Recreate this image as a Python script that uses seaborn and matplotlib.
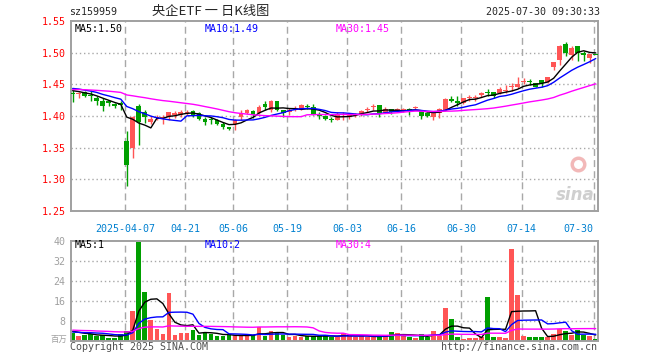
import numpy as np
import pandas as pd
import seaborn as sns
import matplotlib.pyplot as plt

# trading days on the chart (exchange holidays removed)
holidays = ['2025-04-04', '2025-05-01', '2025-05-02', '2025-05-05', '2025-06-02']
days = pd.bdate_range('2025-03-24', '2025-07-30')
days = days[~days.isin(pd.to_datetime(holidays))]

opens = [1.435, 1.434, 1.438, 1.433, 1.428, 1.424, 1.423, 1.419, 1.421, 1.360,
         1.349, 1.416, 1.407, 1.391, 1.397, 1.397, 1.399, 1.401, 1.402, 1.405,
         1.408, 1.405, 1.396, 1.394, 1.393, 1.388, 1.382, 1.387, 1.398, 1.404,
         1.408, 1.404, 1.419, 1.409, 1.424, 1.409, 1.407, 1.409, 1.411, 1.415,
         1.414, 1.401, 1.400, 1.395, 1.394, 1.402, 1.398, 1.402, 1.403, 1.410,
         1.414, 1.417, 1.404, 1.411, 1.409, 1.408, 1.411, 1.412, 1.410, 1.404,
         1.398, 1.405, 1.409, 1.427, 1.424, 1.420, 1.429, 1.429, 1.433, 1.437,
         1.438, 1.436, 1.439, 1.445, 1.445, 1.454, 1.455, 1.452, 1.457, 1.453,
         1.478, 1.488, 1.514, 1.496, 1.510, 1.500, 1.492, 1.497]
highs = [1.441, 1.438, 1.439, 1.441, 1.432, 1.428, 1.425, 1.421, 1.423, 1.377,
         1.400, 1.419, 1.409, 1.400, 1.402, 1.401, 1.407, 1.408, 1.409, 1.409,
         1.409, 1.407, 1.398, 1.398, 1.396, 1.390, 1.383, 1.395, 1.409, 1.411,
         1.409, 1.417, 1.423, 1.425, 1.424, 1.410, 1.412, 1.415, 1.419, 1.419,
         1.419, 1.407, 1.401, 1.399, 1.406, 1.407, 1.404, 1.405, 1.410, 1.414,
         1.419, 1.417, 1.414, 1.411, 1.413, 1.412, 1.413, 1.416, 1.410, 1.407,
         1.407, 1.412, 1.429, 1.431, 1.431, 1.429, 1.433, 1.433, 1.438, 1.442,
         1.438, 1.445, 1.449, 1.452, 1.462, 1.460, 1.458, 1.452, 1.457, 1.461,
         1.485, 1.512, 1.517, 1.510, 1.510, 1.503, 1.498, 1.497]
lows = [1.422, 1.429, 1.430, 1.424, 1.417, 1.408, 1.415, 1.412, 1.410, 1.290,
        1.334, 1.354, 1.389, 1.388, 1.393, 1.387, 1.394, 1.397, 1.398, 1.402,
        1.398, 1.394, 1.386, 1.387, 1.386, 1.380, 1.378, 1.378, 1.394, 1.403,
        1.397, 1.403, 1.410, 1.407, 1.408, 1.398, 1.402, 1.408, 1.409, 1.411,
        1.401, 1.395, 1.393, 1.390, 1.393, 1.393, 1.396, 1.398, 1.400, 1.407,
        1.410, 1.398, 1.404, 1.403, 1.407, 1.406, 1.402, 1.409, 1.395, 1.398,
        1.394, 1.397, 1.408, 1.422, 1.416, 1.419, 1.424, 1.424, 1.430, 1.431,
        1.428, 1.434, 1.437, 1.440, 1.444, 1.450, 1.449, 1.445, 1.445, 1.452,
        1.472, 1.481, 1.495, 1.489, 1.487, 1.487, 1.483, 1.496]
closes = [1.434, 1.437, 1.432, 1.432, 1.424, 1.416, 1.420, 1.415, 1.417, 1.323,
          1.399, 1.390, 1.399, 1.395, 1.399, 1.398, 1.406, 1.404, 1.406, 1.407,
          1.401, 1.396, 1.391, 1.393, 1.387, 1.382, 1.379, 1.393, 1.405, 1.410,
          1.402, 1.414, 1.414, 1.423, 1.409, 1.404, 1.409, 1.413, 1.417, 1.414,
          1.402, 1.400, 1.395, 1.394, 1.402, 1.403, 1.402, 1.403, 1.408, 1.411,
          1.415, 1.403, 1.411, 1.406, 1.410, 1.411, 1.408, 1.413, 1.400, 1.400,
          1.406, 1.411, 1.427, 1.424, 1.421, 1.428, 1.430, 1.430, 1.437, 1.436,
          1.432, 1.443, 1.440, 1.446, 1.450, 1.455, 1.454, 1.446, 1.452, 1.461,
          1.485, 1.511, 1.500, 1.507, 1.500, 1.497, 1.498, 1.496]
volumes = [2.9, 1.8, 2.2, 2.6, 1.8, 2.2, 1.2, 1.2, 2.6, 3.8,
           12.0, 39.5, 19.3, 8.3, 4.6, 2.6, 19.0, 2.2, 2.9, 3.2,
           4.3, 2.2, 3.4, 2.5, 2.0, 2.0, 2.1, 1.8, 2.1, 2.1,
           2.1, 5.3, 1.9, 3.8, 2.9, 2.1, 1.5, 1.9, 1.5, 1.8,
           1.8, 1.8, 2.1, 1.5, 1.5, 2.9, 1.8, 1.5, 1.8, 1.5,
           1.5, 1.8, 1.8, 3.6, 2.9, 1.8, 1.5, 1.0, 2.6, 1.5,
           4.0, 1.8, 12.9, 8.7, 1.5, 0.7, 1.1, 1.1, 1.3, 17.3,
           1.5, 1.4, 1.1, 36.7, 18.1, 2.0, 1.5, 1.5, 1.5, 1.5,
           2.6, 4.5, 3.8, 2.2, 4.2, 2.2, 1.8, 0.7]

# values before the window, only used to seed the moving averages
pre_closes = [1.438, 1.442, 1.445, 1.440, 1.436, 1.439, 1.444, 1.447, 1.443, 1.440,
              1.437, 1.441, 1.446, 1.444, 1.439, 1.436, 1.440, 1.443, 1.442, 1.438,
              1.446, 1.449, 1.448, 1.445, 1.447, 1.444, 1.442, 1.441, 1.439]
pre_volumes = [5.1, 4.2, 3.8, 6.0, 4.5, 3.9, 5.2, 4.4, 4.8, 3.6,
               5.5, 4.1, 4.7, 4.3, 3.9, 5.0, 4.6, 4.2, 4.9, 4.5,
               3.0, 3.4, 2.8, 3.2, 3.1, 3.8, 4.2, 3.6, 4.0]

tick_dates = ['2025-04-07', '2025-04-21', '2025-05-06', '2025-05-19', '2025-06-03',
              '2025-06-16', '2025-06-30', '2025-07-14', '2025-07-30']
tick_labels = ['2025-04-07', '04-21', '05-06', '05-19', '06-03',
               '06-16', '06-30', '07-14', '07-30']
price_ticks = [1.25, 1.30, 1.35, 1.40, 1.45, 1.50, 1.55]
vol_ticks = [8, 16, 24, 32, 40]
price_legend = ['MA5:1.50', 'MA10:1.49', 'MA30:1.45']
vol_legend = ['MA5:1', 'MA10:2', 'MA30:4']

RED = '#FF5555'
GREEN = '#009F00'
GRID = '#A8A8A8'
MA_COLORS = {'MA5': 'black', 'MA10': 'blue', 'MA30': 'magenta'}

sns.set_style('white')
plt.rcParams['font.family'] = ['DejaVu Sans Mono', 'Noto Sans CJK SC']
FS = 7.2

df = pd.DataFrame({'date': days, 'open': opens, 'high': highs, 'low': lows,
                   'close': closes, 'volume': volumes})
df['i'] = np.arange(len(df))
df['color'] = np.where(df['close'] >= df['open'], RED, GREEN)

n0 = len(pre_closes)
close_all = pd.Series(pre_closes + closes)
vol_all = pd.Series(pre_volumes + volumes)
for n in (5, 10, 30):
    df[f'MA{n}'] = close_all.rolling(n).mean().iloc[n0:].to_numpy()
    df[f'VMA{n}'] = vol_all.rolling(n).mean().iloc[n0:].to_numpy()

price_ma = df.melt(id_vars='i', value_vars=['MA5', 'MA10', 'MA30'], var_name='ma', value_name='v')
vol_ma = df.melt(id_vars='i', value_vars=['VMA5', 'VMA10', 'VMA30'], var_name='ma', value_name='v')
vol_ma['ma'] = vol_ma['ma'].str[1:]

tick_idx = [int(np.where(df['date'] == pd.Timestamp(d))[0][0]) for d in tick_dates]
tick_pos = [t - 0.33 for t in tick_idx]

W, H = 660, 360
fig = plt.figure(figsize=(6.6, 3.6), dpi=100)
ax = fig.add_axes([71 / W, 1 - 211 / H, 526.7 / W, 190 / H])
axv = fig.add_axes([71 / W, 1 - 340.5 / H, 526.7 / W, 99.5 / H])


def frame(a):
    for s in a.spines.values():
        s.set_color('#A0A0A0')
        s.set_linewidth(1.4)
    a.set_xlim(-0.28, 87.33)
    a.tick_params(length=0)
    for t in tick_pos:
        a.axvline(t, color=GRID, lw=1, ls=(0, (5, 3)), zorder=0)


# price panel
frame(ax)
ax.set_ylim(1.25, 1.55)
for p in price_ticks[1:-1]:
    ax.axhline(p, color=GRID, lw=1, ls=(0, (1, 2)), zorder=0)
ax.vlines(df['i'], df['low'], df['high'], colors=df['color'], lw=1, zorder=2)
body = (df['close'] - df['open']).abs().clip(lower=0.0016)
ax.bar(df['i'], body, bottom=df[['open', 'close']].min(axis=1), width=0.8,
       color=df['color'], lw=0, zorder=3)
sns.lineplot(data=price_ma, x='i', y='v', hue='ma', palette=MA_COLORS, legend=False,
             lw=1, ax=ax, zorder=4)
ax.set_yticks(price_ticks)
ax.set_yticklabels([f'{p:.2f}' for p in price_ticks], color='red', fontsize=FS)
ax.tick_params(axis='y', pad=4)
ax.set_xticks(tick_pos)
ax.set_xticklabels(tick_labels, color='#0080D0', fontsize=FS)
ax.tick_params(axis='x', pad=9)
ax.get_xticklabels()[-1].set_horizontalalignment('right')
ax.set_xlabel('')
ax.set_ylabel('')

# faded sina mark
ax.plot([0.963], [0.25], transform=ax.transAxes, marker='o', ms=9, mfc='none',
        mec='#F2B8B8', mew=2.5, zorder=1)
ax.text(0.995, 0.035, 'sina', transform=ax.transAxes, ha='right', va='bottom',
        fontsize=12, fontstyle='italic', fontweight='bold', color='#CFCFCF',
        family='DejaVu Sans', zorder=1)

# volume panel
frame(axv)
axv.set_ylim(0, 40)
for v in vol_ticks[:-1]:
    axv.axhline(v, color=GRID, lw=1, ls=(0, (1, 2)), zorder=0)
axv.bar(df['i'], df['volume'], width=0.78, color=df['color'], lw=0, zorder=2)
sns.lineplot(data=vol_ma, x='i', y='v', hue='ma', palette=MA_COLORS, legend=False,
             lw=1, ax=axv, zorder=3)
axv.set_yticks(vol_ticks)
axv.set_yticklabels([str(v) for v in vol_ticks], color='#A0A0A0', fontsize=FS)
axv.tick_params(axis='y', pad=4)
axv.set_xticks(tick_pos)
axv.set_xticklabels([])
axv.set_xlabel('')
axv.set_ylabel('')


def ftext(x, y, s, **kw):
    kw.setdefault('fontsize', FS)
    kw.setdefault('va', 'center')
    fig.text(x / W, 1 - y / H, s, **kw)


ftext(69, 12, 'sz159959')
ftext(210.5, 12, '央企ETF 一 日K线图', ha='center', fontsize=9.5,
      family=['Noto Sans CJK SC', 'DejaVu Sans'])
ftext(600, 12, '2025-07-30 09:30:33', ha='right')

for x, s, c in zip([75, 205, 336], price_legend, MA_COLORS.values()):
    ftext(x, 29, s, color=c)
for x, s, c in zip([75, 205, 336], vol_legend, MA_COLORS.values()):
    ftext(x, 245.5, s, color=c)
ftext(67, 339, '百万', ha='right', color='#A0A0A0', fontsize=6,
      family=['Noto Sans CJK SC', 'DejaVu Sans'])
ftext(70, 346.5, 'Copyright 2025 SINA.COM', color='#505050')
ftext(597, 346.5, 'http://finance.sina.com.cn', ha='right', color='#505050')

fig.savefig('out.png', dpi=100)
